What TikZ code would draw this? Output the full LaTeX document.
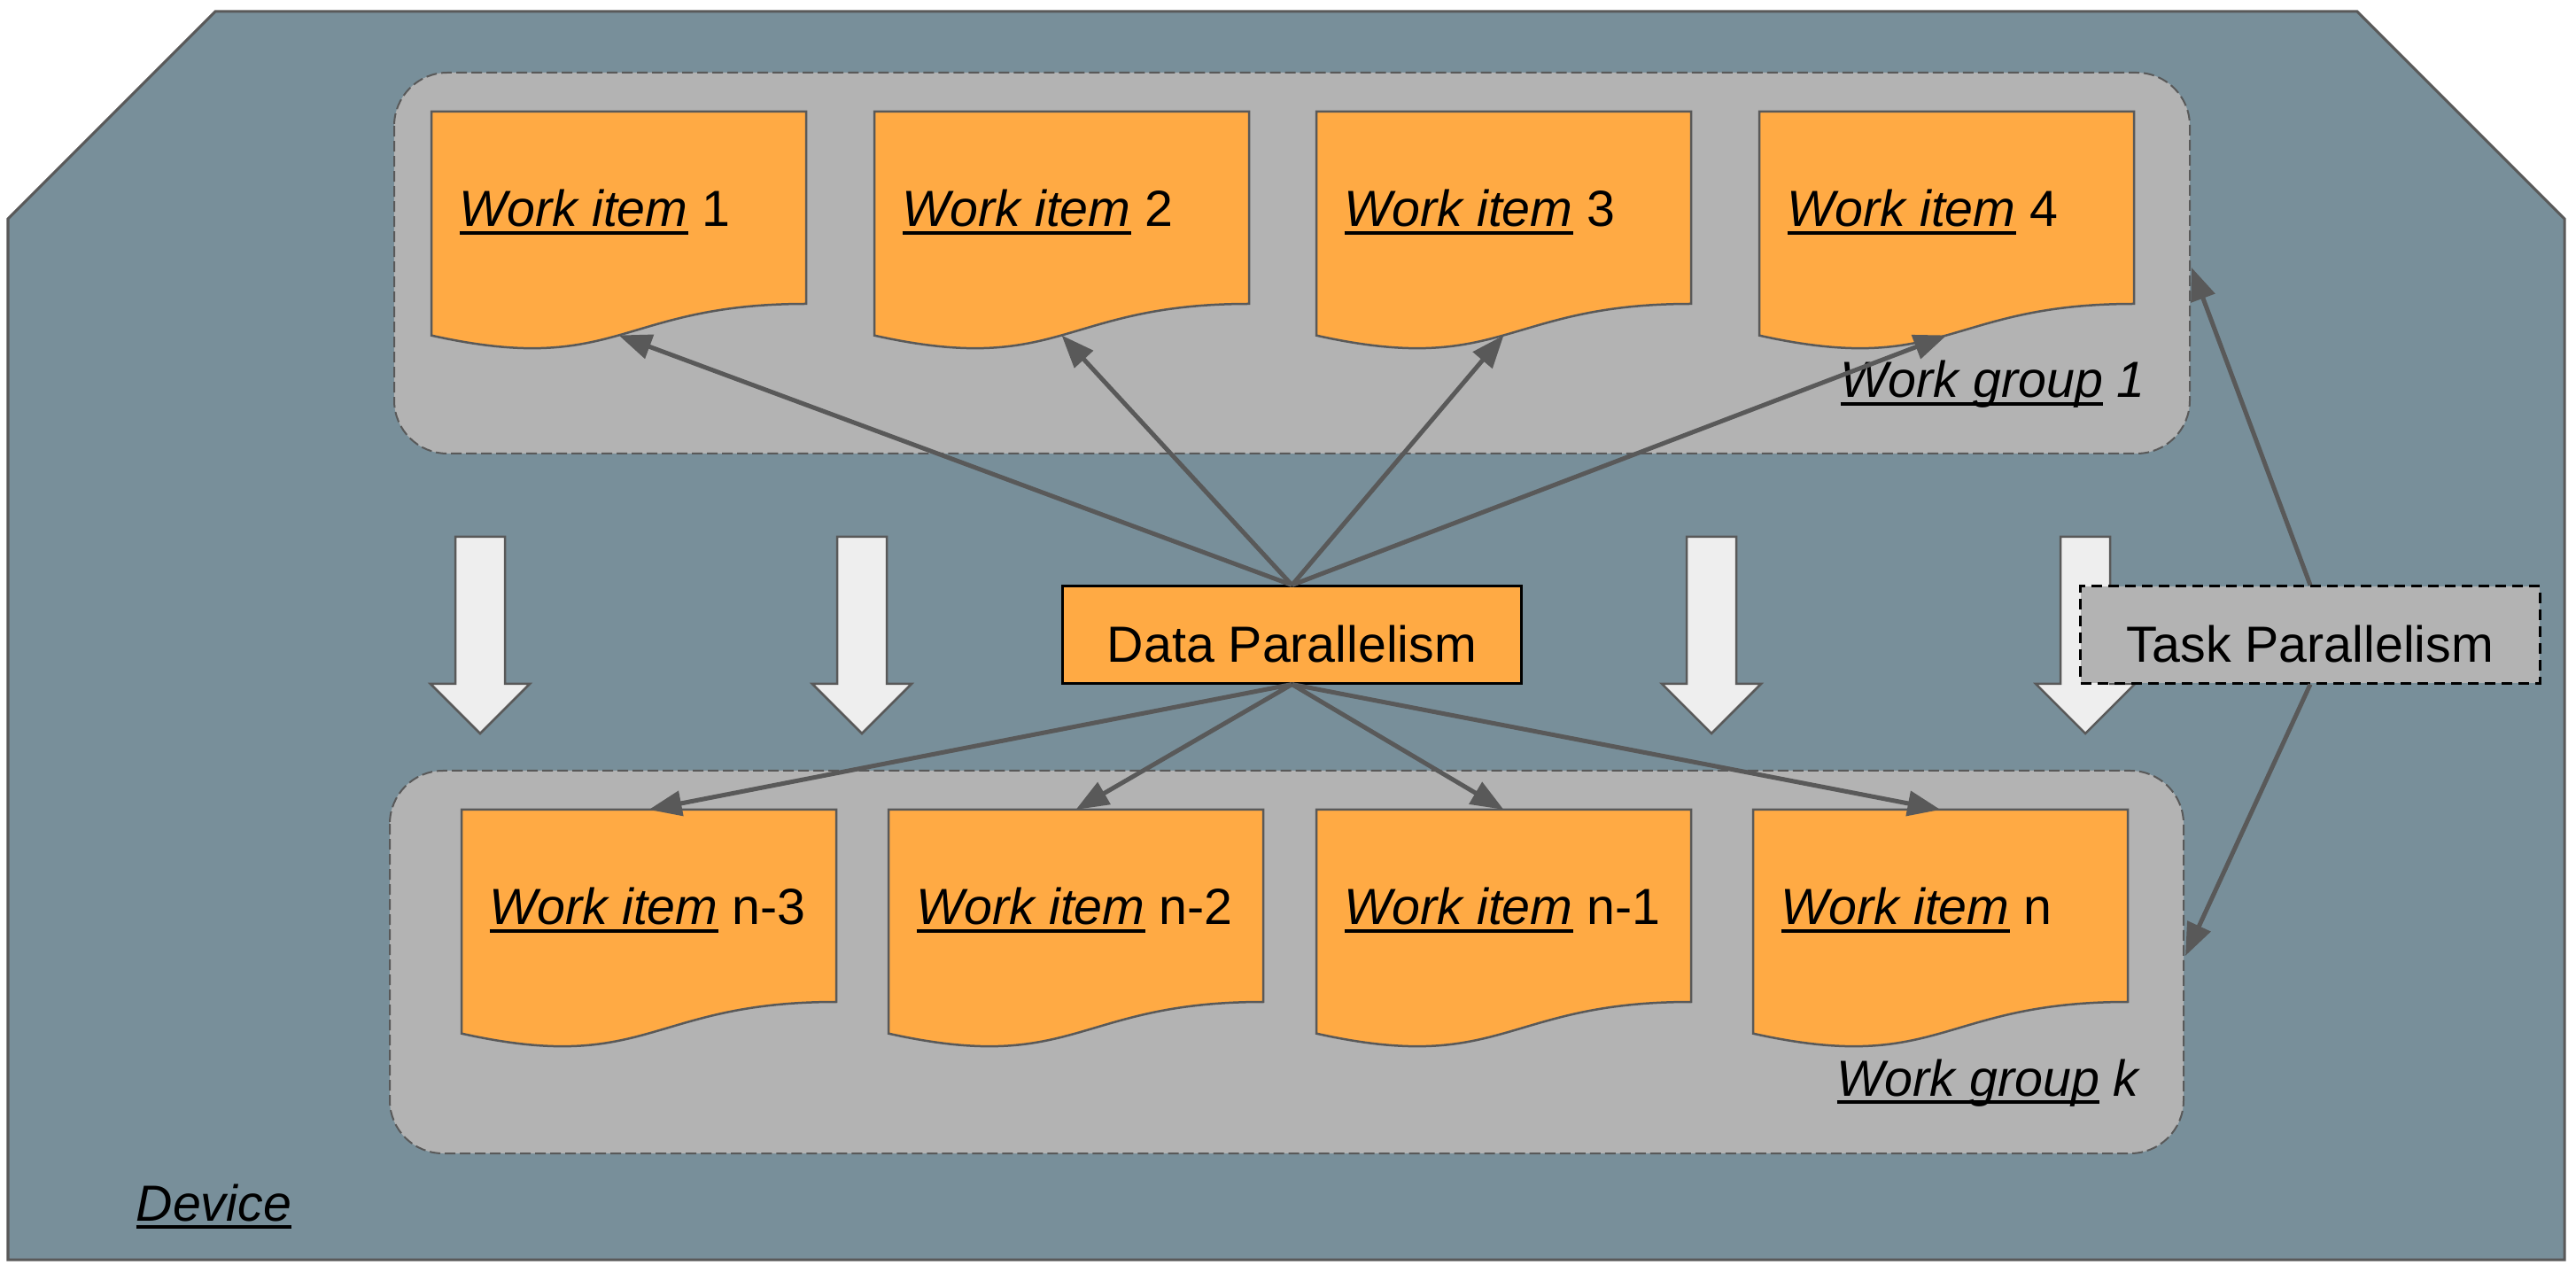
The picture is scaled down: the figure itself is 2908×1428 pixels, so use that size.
\documentclass[tikz,border=0pt]{standalone}
\usepackage{fontspec}
\setmainfont{Liberation Sans}
\usetikzlibrary{arrows.meta}
\definecolor{devfill}{RGB}{120,143,154}
\definecolor{grpfill}{RGB}{179,179,179}
\definecolor{orng}{RGB}{255,170,68}
\definecolor{edgec}{RGB}{89,89,89}
\definecolor{barrow}{RGB}{238,238,238}
\newcommand\ulin[1]{\setbox0\hbox{#1}\rlap{\rule[-2.5pt]{\wd0}{1.1pt}}\box0\relax}
\tikzset{
  txt/.style={font=\fontsize{16.3}{19}\selectfont},
  lbl/.style={txt, anchor=base west, inner sep=0pt},
  docshape/.style={draw=edgec, fill=orng, line width=0.025cm},
  grp/.style={draw=edgec, fill=grpfill, line width=0.02cm, dash pattern=on 0.12cm off 0.05cm, rounded corners=0.6cm},
  blockarrow/.style={draw=edgec, fill=barrow, line width=0.025cm, line join=miter},
  conn/.style={draw=edgec, line width=0.05cm, -{Triangle[length=0.37cm, width=0.28cm]}},
  dpbox/.style={txt, draw=black, fill=orng, line width=0.03cm, minimum width=5.18cm, minimum height=1.09cm, text height=0.61cm, text depth=0pt, inner sep=0pt},
  tpbox/.style={txt, draw=black, fill=grpfill, line width=0.03cm, dash pattern=on 0.12cm off 0.07cm, minimum width=5.18cm, minimum height=1.09cm, text height=0.61cm, text depth=0pt, inner sep=0pt},
}
\newcommand\wdoc[4]{%
  \begin{scope}[shift={(#2,#3)}]
    \draw[docshape] (0,0) -- (423,0) -- (423,217) .. controls (211.5,217) and (211.5,299.7) .. (0,252.7) -- cycle;
    \coordinate (#1-top) at (211.5,0);
    \coordinate (#1-bot) at (211.5,252.5);
    \node[lbl] (#1) at (31,130) {\ulin{\itshape Work item} #4};
  \end{scope}}
\newcommand\barr[1]{%
  \draw[blockarrow] (#1-28,606) -- (#1+28,606) -- (#1+28,772) -- (#1+56,772) -- (#1,828) -- (#1-56,772) -- (#1-28,772) -- cycle;}
\begin{document}
\begin{tikzpicture}[x=0.01cm, y=-0.01cm]
\useasboundingbox (0,0) rectangle (2908,1428);
% device
\draw[draw=edgec, fill=devfill, line width=0.03cm] (9,247) -- (243,13) -- (2661,13) -- (2895,247) -- (2895,1422) -- (9,1422) -- cycle;
\node[lbl] (devlbl) at (153,1378) {\ulin{\itshape Device}};
% groups
\path[grp] (445,82) rectangle (2472,512);
\path[grp] (440,870) rectangle (2465,1302);
\node[lbl] (wg1lbl) at (2077,449) {\ulin{\itshape Work group} \itshape 1};
\node[lbl] (wgklbl) at (2073,1237) {\ulin{\itshape Work group} \itshape k};
% work items
\wdoc{w1}{487}{126}{1}
\wdoc{w2}{987}{126}{2}
\wdoc{w3}{1486}{126}{3}
\wdoc{w4}{1986}{126}{4}
\wdoc{w5}{521}{914}{n-3}
\wdoc{w6}{1003}{914}{n-2}
\wdoc{w7}{1486}{914}{n-1}
\wdoc{w8}{1979}{914}{n}
% block arrows
\barr{542}
\barr{973}
\barr{1932}
\barr{2354}
% boxes
\node[dpbox] (dp) at (1458.5,716.5) {Data Parallelism};
\node[tpbox] (tp) at (2608,716.5) {Task Parallelism};
\coordinate (g1r) at (2474,302);
\coordinate (gkr) at (2467,1079);
% connectors
\draw[conn] (dp.north) -- (w1-bot);
\draw[conn] (dp.north) -- (w2-bot);
\draw[conn] (dp.north) -- (w3-bot);
\draw[conn] (dp.north) -- (w4-bot);
\draw[conn] (dp.south) -- (w5-top);
\draw[conn] (dp.south) -- (w6-top);
\draw[conn] (dp.south) -- (w7-top);
\draw[conn] (dp.south) -- (w8-top);
\draw[conn] (tp.north) -- (g1r);
\draw[conn] (tp.south) -- (gkr);
\end{tikzpicture}
\end{document}
